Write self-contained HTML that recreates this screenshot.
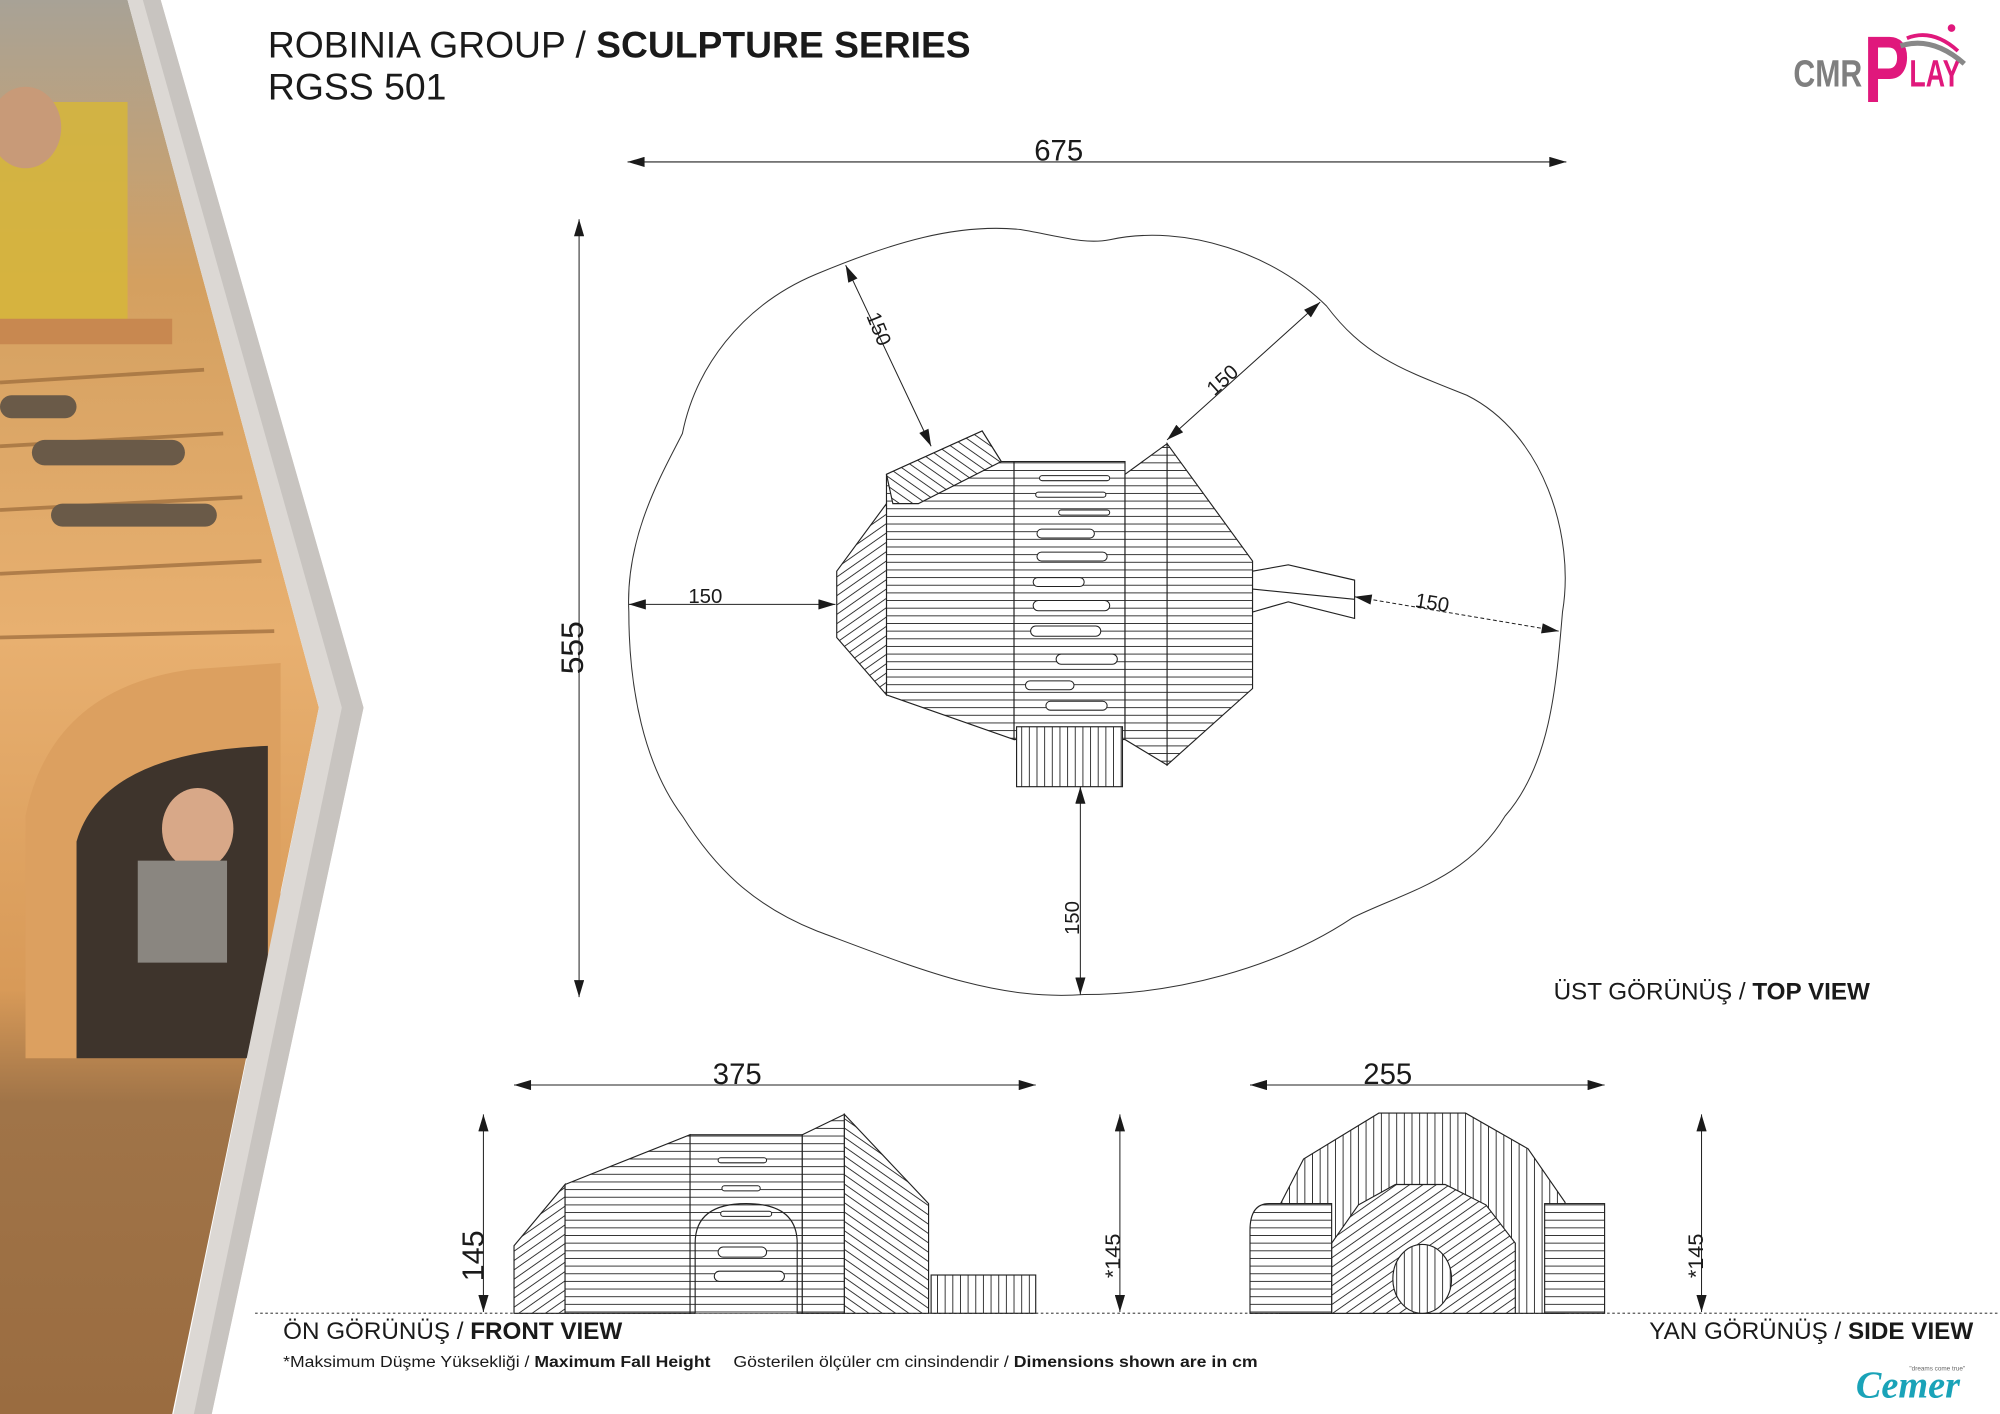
<!DOCTYPE html>
<html><head><meta charset="utf-8"><style>
html,body{margin:0;padding:0;background:#fff}
svg{display:block}
text{font-family:"Liberation Sans",sans-serif;fill:#1a1a1a}
</style></head><body>
<svg width="2000" height="1414" viewBox="0 0 1568 1109" preserveAspectRatio="none" xmlns="http://www.w3.org/2000/svg">
<defs>
<pattern id="hh" width="8" height="6" patternUnits="userSpaceOnUse"><rect width="8" height="6" fill="#fff"/><line x1="0" y1="3" x2="8" y2="3" stroke="#222" stroke-width="0.7"/></pattern>
<pattern id="vv" width="6" height="8" patternUnits="userSpaceOnUse"><rect width="6" height="8" fill="#fff"/><line x1="3" y1="0" x2="3" y2="8" stroke="#222" stroke-width="0.7"/></pattern>
<pattern id="dd" width="6" height="6" patternUnits="userSpaceOnUse" patternTransform="rotate(-35)"><rect width="6" height="6" fill="#fff"/><line x1="0" y1="3" x2="6" y2="3" stroke="#222" stroke-width="0.7"/></pattern>
<pattern id="dd2" width="6" height="6" patternUnits="userSpaceOnUse" patternTransform="rotate(35)"><rect width="6" height="6" fill="#fff"/><line x1="0" y1="3" x2="6" y2="3" stroke="#222" stroke-width="0.7"/></pattern>
<linearGradient id="wood" x1="0" y1="0" x2="0" y2="1">
<stop offset="0" stop-color="#a8a296"/><stop offset="0.2" stop-color="#d4a060"/><stop offset="0.45" stop-color="#e8b070"/><stop offset="0.7" stop-color="#d89a58"/><stop offset="0.78" stop-color="#a07448"/><stop offset="1" stop-color="#9a6c40"/></linearGradient>
<marker id="ar" viewBox="0 0 10 6" refX="10" refY="3" markerWidth="14" markerHeight="8" markerUnits="userSpaceOnUse" orient="auto-start-reverse"><path d="M0,0 L10,3 L0,6 Z" fill="#1a1a1a"/></marker>
</defs>
<rect width="1568" height="1109" fill="#fff"/>
<!-- photo panel -->
<polygon points="0,0 100,0 250,555 135,1109 0,1109" fill="url(#wood)"/>
<rect x="0" y="80" width="100" height="180" fill="#d6b63a" opacity="0.85"/>
<ellipse cx="20" cy="100" rx="28" ry="32" fill="#c89a78"/>
<rect x="0" y="250" width="135" height="20" fill="#c88850"/>
<g stroke="#9a6a3a" stroke-width="3" opacity="0.7">
<line x1="0" y1="300" x2="160" y2="290"/><line x1="0" y1="350" x2="175" y2="340"/><line x1="0" y1="400" x2="190" y2="390"/><line x1="0" y1="450" x2="205" y2="440"/><line x1="0" y1="500" x2="215" y2="495"/></g>
<rect x="25" y="345" width="120" height="20" rx="10" fill="#6a5a48"/>
<rect x="40" y="395" width="130" height="18" rx="9" fill="#6a5a48"/>
<rect x="0" y="310" width="60" height="18" rx="9" fill="#6a5a48"/>
<path d="M20,830 L20,640 Q40,540 150,525 L220,520 L220,830 Z" fill="#dca060"/>
<path d="M60,830 L60,660 Q80,590 210,585 L210,830 Z" fill="#3e342c"/>
<ellipse cx="155" cy="650" rx="28" ry="32" fill="#d8a888"/>
<rect x="108" y="675" width="70" height="80" fill="#8a8680"/>
<polygon points="100,0 126,0 285,555 166,1109 136,1109 250,555" fill="#dcd8d4"/>
<polygon points="112,0 126,0 285,555 166,1109 152,1109 268,555" fill="#c8c4c0"/>

<!-- title -->
<text x="210" y="45" font-size="29" textLength="551" lengthAdjust="spacingAndGlyphs">ROBINIA GROUP / <tspan font-weight="bold">SCULPTURE SERIES</tspan></text>
<text x="210" y="78" font-size="29" textLength="140" lengthAdjust="spacingAndGlyphs">RGSS 501</text>
<!-- logo -->
<text x="1406" y="68" font-size="30" font-weight="bold" style="fill:#7f7f7f" textLength="54" lengthAdjust="spacingAndGlyphs">CMR</text>
<text x="1461" y="80" font-size="74" font-weight="bold" style="fill:#e0187c" textLength="36" lengthAdjust="spacingAndGlyphs">P</text>
<text x="1497" y="68" font-size="30" font-weight="bold" style="fill:#e0187c" textLength="40" lengthAdjust="spacingAndGlyphs">LAY</text>
<path d="M1490,36 Q1515,28 1540,50" stroke="#888" stroke-width="4" fill="none"/>
<path d="M1495,30 Q1515,22 1535,40" stroke="#e0187c" stroke-width="3" fill="none"/>
<circle cx="1530" cy="22" r="3" fill="#e0187c"/>

<!-- top view -->
<path d="M493,480 C490,420 520,370 535,340 C545,290 580,240 640,215 C700,190 750,175 800,180 C830,185 850,192 870,188 C930,175 1000,200 1040,240 C1070,280 1100,290 1150,310 C1210,340 1235,420 1225,480 C1220,540 1215,600 1180,640 C1150,690 1100,700 1060,720 C1000,760 920,780 850,780 C780,785 720,760 640,730 C590,710 560,680 535,640 C505,600 493,540 493,480 Z" fill="none" stroke="#333" stroke-width="0.8"/>
<g stroke="#222" stroke-width="0.9">
<polygon points="695,372 770,338 785,362 795,362 795,580 695,545" fill="url(#hh)"/>
<polygon points="695,372 770,338 785,362 720,395 700,395" fill="url(#dd2)"/>
<polygon points="656,448 695,395 695,545 656,500" fill="url(#dd)"/>
<rect x="795" y="362" width="87" height="218" fill="url(#hh)"/>
<polygon points="882,372 915,348 915,600 882,580" fill="url(#hh)"/>
<polygon points="915,348 982,440 982,540 915,600" fill="url(#hh)"/>
<rect x="797" y="570" width="83" height="47" fill="url(#vv)"/>
<polygon points="982,448 1010,443 1062,455 1062,485 1010,472 982,480" fill="#fff"/>
<line x1="982" y1="462" x2="1062" y2="470"/>
</g>
<g fill="#fff" stroke="#222" stroke-width="0.8">
<rect x="815" y="373" width="55" height="4" rx="2"/><rect x="812" y="386" width="55" height="4" rx="2"/><rect x="830" y="400" width="40" height="4" rx="2"/>
<rect x="813" y="415" width="45" height="7" rx="3.5"/><rect x="813" y="433" width="55" height="7" rx="3.5"/><rect x="810" y="453" width="40" height="7" rx="3.5"/>
<rect x="810" y="471" width="60" height="8" rx="4"/><rect x="808" y="491" width="55" height="8" rx="4"/><rect x="828" y="513" width="48" height="8" rx="4"/>
<rect x="804" y="534" width="38" height="7" rx="3.5"/><rect x="820" y="550" width="48" height="7" rx="3.5"/>
</g>
<!-- top dims -->
<g stroke="#222" stroke-width="0.8" fill="none">
<line x1="492" y1="127" x2="1228" y2="127" marker-start="url(#ar)" marker-end="url(#ar)"/>
<line x1="454" y1="172" x2="454" y2="782" marker-start="url(#ar)" marker-end="url(#ar)"/>
<line x1="663" y1="208" x2="730" y2="350" marker-start="url(#ar)" marker-end="url(#ar)"/>
<line x1="1035" y1="237" x2="915" y2="345" marker-start="url(#ar)" marker-end="url(#ar)"/>
<line x1="493" y1="474" x2="655" y2="474" marker-start="url(#ar)" marker-end="url(#ar)"/>
<line x1="1062" y1="468" x2="1222" y2="495" stroke-dasharray="3,2" marker-start="url(#ar)" marker-end="url(#ar)"/>
<line x1="847" y1="617" x2="847" y2="780" marker-start="url(#ar)" marker-end="url(#ar)"/>
</g>
<text x="830" y="127" font-size="23" text-anchor="middle" dy="-1">675</text>
<text transform="translate(457,508) rotate(-90)" font-size="25" text-anchor="middle">555</text>
<text transform="translate(684,260) rotate(68)" font-size="16" text-anchor="middle">150</text>
<text transform="translate(962,302) rotate(-42)" font-size="16" text-anchor="middle">150</text>
<text x="553" y="474" font-size="16" text-anchor="middle" dy="-1">150</text>
<text transform="translate(1122,478) rotate(9)" font-size="16" text-anchor="middle">150</text>
<text transform="translate(846,720) rotate(-90)" font-size="16" text-anchor="middle">150</text>
<text x="1466" y="784" font-size="19" text-anchor="end">ÜST GÖRÜNÜŞ / <tspan font-weight="bold">TOP VIEW</tspan></text>

<!-- ground -->
<line x1="200" y1="1030" x2="1568" y2="1030" stroke="#555" stroke-width="1" stroke-dasharray="2,2"/>
<!-- front view -->
<g stroke="#222" stroke-width="0.9">
<polygon points="403,977 443,929 443,1030 403,1030" fill="url(#dd)"/>
<polygon points="443,929 541,890 541,1030 443,1030" fill="url(#hh)"/>
<rect x="541" y="890" width="88" height="140" fill="url(#hh)"/>
<polygon points="629,890 662,874 662,1030 629,1030" fill="url(#hh)"/>
<polygon points="662,874 728,944 728,1030 662,1030" fill="url(#dd2)"/>
<rect x="730" y="1000" width="82" height="30" fill="url(#vv)"/>
<path d="M545,1030 L545,975 Q545,944 585,944 Q625,944 625,975 L625,1030" fill="url(#hh)"/>
</g>
<g fill="#fff" stroke="#222" stroke-width="0.8">
<rect x="563" y="908" width="38" height="4" rx="2"/><rect x="566" y="930" width="30" height="4" rx="2"/><rect x="565" y="950" width="40" height="4" rx="2"/>
<rect x="563" y="978" width="38" height="8" rx="4"/><rect x="560" y="997" width="55" height="8" rx="4"/>
</g>
<g stroke="#222" stroke-width="0.8" fill="none">
<line x1="403" y1="851" x2="812" y2="851" marker-start="url(#ar)" marker-end="url(#ar)"/>
<line x1="379" y1="874" x2="379" y2="1029" marker-start="url(#ar)" marker-end="url(#ar)"/>
<line x1="878" y1="874" x2="878" y2="1029" marker-start="url(#ar)" marker-end="url(#ar)"/>
<line x1="980" y1="851" x2="1258" y2="851" marker-start="url(#ar)" marker-end="url(#ar)"/>
<line x1="1334" y1="874" x2="1334" y2="1029" marker-start="url(#ar)" marker-end="url(#ar)"/>
</g>
<text x="578" y="851" font-size="23" text-anchor="middle" dy="-1">375</text>
<text x="1088" y="851" font-size="23" text-anchor="middle" dy="-1">255</text>
<text transform="translate(379,985) rotate(-90)" font-size="24" text-anchor="middle">145</text>
<text transform="translate(878,985) rotate(-90)" font-size="17" text-anchor="middle">*145</text>
<text transform="translate(1335,985) rotate(-90)" font-size="17" text-anchor="middle">*145</text>
<!-- side view -->
<g stroke="#222" stroke-width="0.9">
<polygon points="1003,946 1022,909 1081,873 1149,873 1198,901 1227,943 1227,1030 1003,1030" fill="url(#vv)"/>
<polygon points="1044,975 1065,945 1094,929 1133,929 1165,945 1188,975 1188,1030 1044,1030" fill="url(#dd)"/>
<path d="M980,1030 L980,965 Q980,944 995,944 L1044,944 L1044,1030 Z" fill="url(#hh)"/>
<rect x="1211" y="944" width="47" height="86" fill="url(#hh)"/>
<ellipse cx="1115" cy="1003" rx="23" ry="27" fill="url(#vv)"/>
</g>
<text x="222" y="1050" font-size="19">ÖN GÖRÜNÜŞ / <tspan font-weight="bold">FRONT VIEW</tspan></text>
<text x="1547" y="1050" font-size="19" text-anchor="end">YAN GÖRÜNÜŞ / <tspan font-weight="bold">SIDE VIEW</tspan></text>
<text x="222" y="1072" font-size="12" textLength="335" lengthAdjust="spacingAndGlyphs">*Maksimum Düşme Yüksekliği / <tspan font-weight="bold">Maximum Fall Height</tspan></text>
<text x="575" y="1072" font-size="12" textLength="411" lengthAdjust="spacingAndGlyphs">Gösterilen ölçüler cm cinsindendir / <tspan font-weight="bold">Dimensions shown are in cm</tspan></text>
<text x="1455" y="1096" font-size="30" font-weight="bold" font-style="italic" style="fill:#1aa3b8;font-family:'Liberation Serif',serif">Cemer</text>
<text x="1497" y="1075" font-size="5" style="fill:#666">"dreams come true"</text>
</svg>
</body></html>
